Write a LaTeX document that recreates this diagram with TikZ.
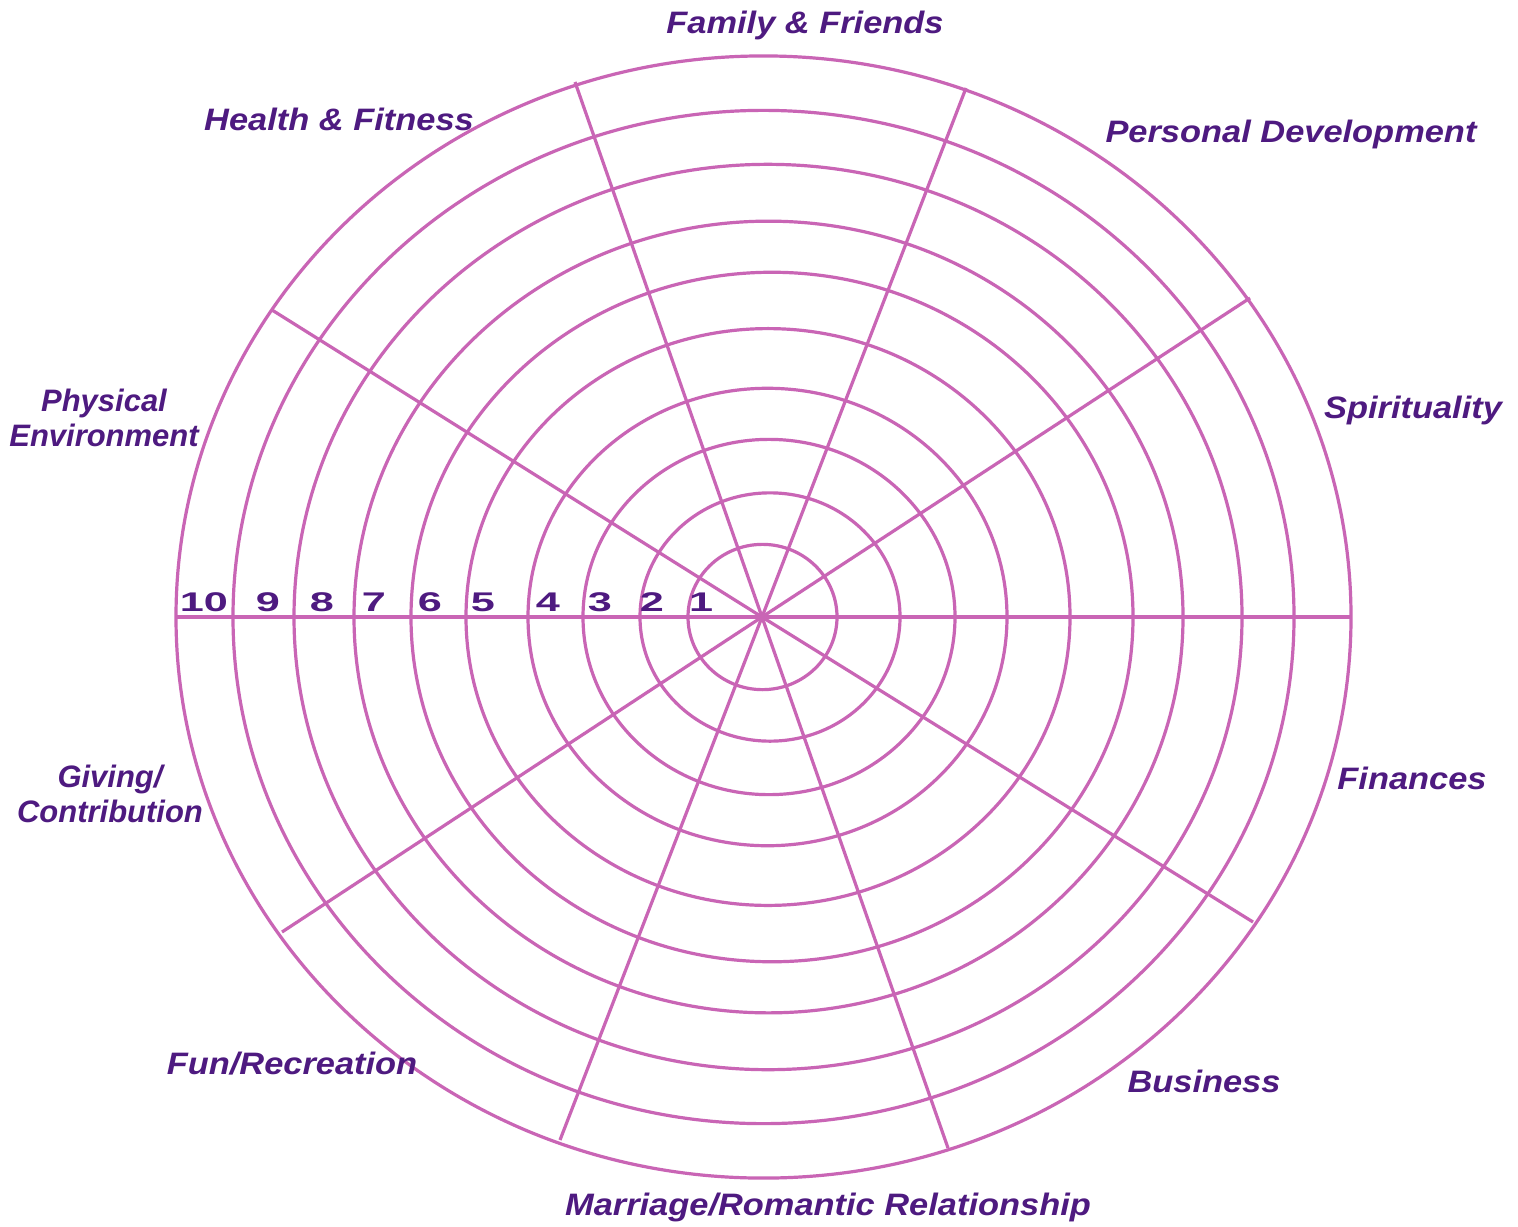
\documentclass[tikz,border=0pt]{standalone}
\usepackage{fontspec}
\setmainfont{Liberation Sans}
\definecolor{ringcol}{HTML}{C965B5}
\definecolor{txtcol}{HTML}{4E1A80}
\begin{document}
\begin{tikzpicture}[x=0.5pt,y=-0.5pt,
  ringline/.style={draw=ringcol,line width=1.6pt},
  lbl/.style={text=txtcol,font=\fontsize{15.5}{17.5}\selectfont\bfseries\itshape,xscale=1.11,align=center,inner sep=0pt},
  num/.style={text=txtcol,font=\fontsize{13.5}{14}\selectfont\bfseries,xscale=1.6,inner sep=0pt,anchor=base}]
\useasboundingbox (0,0) rectangle (1518,1226);
\fill[white] (0,0) rectangle (1518,1226);
% rings
\foreach \cx/\r/\f in {762.5/74.5/0.975, 770/130/0.955, 769/186/0.955, 767.5/239.5/0.955, 768/302/0.955, 772/361/0.955, 768.5/414.5/0.955, 768/474/0.955, 763.5/530.5/0.955, 763.5/587.5/0.955}
  \draw[ringline] (\cx,617) ellipse [x radius=\r, y radius={\r*\f}];
% spokes
\coordinate (c) at (762,617);
\coordinate (a1) at (176,617);   \coordinate (b1) at (1351,617);
\coordinate (a2) at (575,82);    \coordinate (b2) at (948,1148);
\coordinate (a3) at (966,88);    \coordinate (b3) at (560,1140);
\coordinate (a4) at (1250,298);  \coordinate (b4) at (282,932);
\coordinate (a5) at (272,310);   \coordinate (b5) at (1253,922);
\foreach \i in {1,...,5} \draw[ringline] (a\i) -- (c) -- (b\i);
% scale numbers
\foreach \x/\n in {204/10, 268/9, 322/8, 374/7, 430/6, 483/5, 548/4, 600/3, 652/2, 701/1}
  \node[num] (n\n) at (\x,611) {\n};
% labels
\node[lbl] (ff) at (805,25) {Family \& Friends};
\node[lbl] (hf) at (339,119) {Health \& Fitness};
\node[lbl] (pd) at (1291,134) {Personal Development};
\node[lbl] (sp) at (1413,410) {Spirituality};
\node[lbl,xscale=0.9] (pe) at (104,418) {Physical\\Environment};
\node[lbl,xscale=0.9] (gc) at (110,794) {Giving/\\Contribution};
\node[lbl] (fi) at (1412,778) {Finances};
\node[lbl] (fr) at (292,1064) {Fun/Recreation};
\node[lbl] (bu) at (1204,1081) {Business};
\node[lbl] (mr) at (828,1207) {Marriage/Romantic Relationship};
\end{tikzpicture}
\end{document}
